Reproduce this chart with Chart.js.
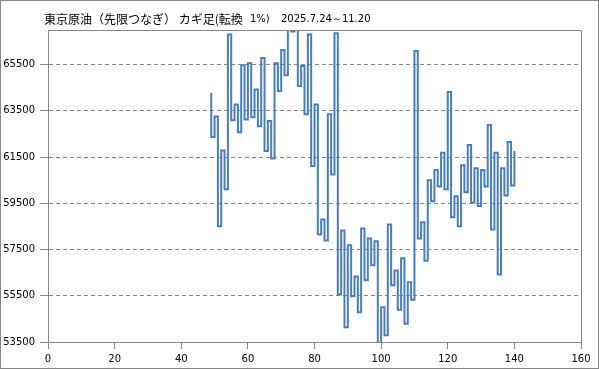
<!DOCTYPE html>
<html lang="ja">
<head>
<meta charset="utf-8">
<title>東京原油 カギ足</title>
<script src="https://cdn.jsdelivr.net/npm/chart.js@4.4.1/dist/chart.umd.min.js"></script>
<style>
  html, body { margin: 0; padding: 0; background: #fff; }
  #wrap { width: 599px; height: 369px; position: relative; }
</style>
</head>
<body>
<div id="wrap"><canvas id="kagiChart"></canvas></div>
<script>
// --- data ---
// kagi line: first vertical sits at x = startX, each reversal moves one step right
const startX = 49;
// start price, then the price where each vertical segment ends
const kagiLevels = [
    64290,
    62370, 63260, 58510, 61790, 60110, 66810, 63090, 63780, 62580, 65470,
    63130, 65560, 63230, 64430, 62840, 65790, 61760, 63060, 61440, 65560,
    64360, 66140, 65040, 67650, 66930, 67700, 64580, 65440, 63350, 66810,
    61110, 63780, 58150, 58800, 57890, 63350, 60750, 66860, 55550, 58320,
    54140, 57690, 55480, 56330, 54790, 58410, 56170, 57980, 56820, 57860,
    53450, 55000, 53790, 58580, 55960, 56590, 54900, 57120, 54290, 56090,
    55330, 66090, 57980, 58680, 57020, 60500, 59590, 60940, 60230, 61690,
    60110, 64320, 58900, 59810, 58510, 61150, 59980, 62020, 59540, 61020,
    59390, 60940, 60230, 62890, 58370, 61690, 56420, 61020, 59840, 62150,
    60270, 61760
];
const yTickValues = [53500, 55500, 57500, 59500, 61500, 63500, 65500];
const xMin = 0, xMax = 160, xStep = 20;
const yMin = 53500, yMax = 67000;

const titleMain = '東京原油（先限つなぎ） カギ足(転換';
const titleRate = '1%)';
const titleDates = '2025.7.24～11.20';

// --- build the step points: vertical at x, then flat to x+1 ---
function buildKagiPoints() {
    const pts = [];
    for (let i = 0; i < kagiLevels.length - 1; i++) {
        const x = startX + i;
        pts.push({ x: x, y: kagiLevels[i] });
        pts.push({ x: x, y: kagiLevels[i + 1] });
    }
    return pts;
}

const gridGrey = '#878787';
const axisFont = { family: 'DejaVu Sans', size: 10 };

// frame, plot border (top/right) and the title
const decorPlugin = {
    id: 'decor',
    afterDraw(chart) {
        const ctx = chart.ctx;
        const a = chart.chartArea;
        ctx.save();
        ctx.strokeStyle = gridGrey;
        ctx.lineWidth = 1;
        ctx.beginPath();
        ctx.moveTo(a.left, Math.round(a.top) + 0.5);
        ctx.lineTo(Math.round(a.right) + 0.5, Math.round(a.top) + 0.5);
        ctx.lineTo(Math.round(a.right) + 0.5, a.bottom);
        ctx.stroke();
        ctx.strokeRect(0.5, 0.5, chart.width - 1, chart.height - 1);

        ctx.fillStyle = '#000';
        ctx.textBaseline = 'middle';
        ctx.font = '12px "Noto Sans CJK JP"';
        ctx.fillText(titleMain, 44, 19);
        ctx.font = '10px "DejaVu Sans"';
        ctx.fillText(titleRate, 250, 19);
        ctx.fillText(titleDates, 281, 19);
        ctx.restore();
    }
};

document.addEventListener('DOMContentLoaded', () => {
    const canvas = document.getElementById('kagiChart');
    new Chart(canvas.getContext('2d'), {
        type: 'scatter',
        data: {
            datasets: [{
                data: buildKagiPoints(),
                showLine: true,
                borderColor: '#4a7ebb',
                borderWidth: 2,
                pointRadius: 0,
                tension: 0,
                clip: 0
            }]
        },
        options: {
            animation: false,
            responsive: true,
            maintainAspectRatio: false,
            devicePixelRatio: 1,
            layout: { padding: { top: 30, right: 18, bottom: 0, left: 0 } },
            plugins: {
                legend: { display: false },
                title: { display: false },
                tooltip: { enabled: false }
            },
            scales: {
                x: {
                    type: 'linear',
                    min: xMin,
                    max: xMax,
                    ticks: { stepSize: xStep, color: '#000', font: axisFont, padding: 4, maxRotation: 0 },
                    grid: { drawOnChartArea: false, drawTicks: true, tickLength: 7, tickColor: gridGrey },
                    border: { display: true, color: gridGrey },
                    afterFit(scale) { scale.height = 27; }
                },
                y: {
                    type: 'linear',
                    min: yMin,
                    max: yMax,
                    afterBuildTicks(scale) {
                        scale.ticks = yTickValues.map(v => ({ value: v }));
                    },
                    ticks: { color: '#000', font: axisFont, padding: 5, callback: v => String(v) },
                    grid: { color: gridGrey, tickLength: 8, tickColor: gridGrey, tickBorderDash: [] },
                    border: { display: true, color: gridGrey, dash: [4, 3] },
                    afterFit(scale) { scale.width = 48; }
                }
            }
        },
        plugins: [decorPlugin]
    });
});
</script>
</body>
</html>
